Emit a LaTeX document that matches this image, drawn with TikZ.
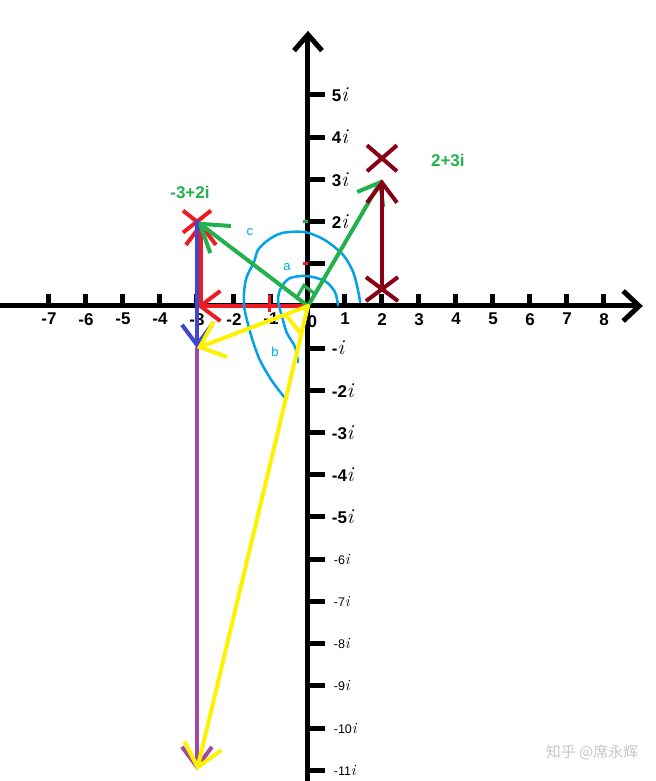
\documentclass[tikz,border=0pt]{standalone}
\usepackage{fontspec}
\setsansfont{Liberation Sans}
\newfontfamily\cjkfont{Noto Sans CJK SC}
\usetikzlibrary{arrows, arrows.meta}
\usetikzlibrary{calc}
\usetikzlibrary{shapes.misc}

\definecolor{pred}{HTML}{ED1C24}
\definecolor{pdarkred}{HTML}{880015}
\definecolor{pgreen}{HTML}{22B14C}
\definecolor{pindigo}{HTML}{3F48CC}
\definecolor{ppurple}{HTML}{A349A4}
\definecolor{pyellow}{HTML}{FFF200}
\definecolor{pblue}{HTML}{00A2E8}

\newcommand{\iu}{{\rmfamily\mdseries\itshape\scalebox{1.25}{i}}}

\begin{document}
\begin{tikzpicture}[x=37pt, y=42.2pt,
    axis/.style={line width=5pt},
    vec/.style={line width=4pt, line cap=round, -{Straight Barb[length=20pt, width=30pt]}},
    cross/.style={cross out, draw, line width=4pt, inner sep=0pt, minimum width=24pt, minimum height=18pt},
    num/.style={font=\sffamily\bfseries\fontsize{17}{20}\selectfont, inner sep=1pt},
    smallnum/.style={font=\sffamily\fontsize{12.5}{15}\selectfont, inner sep=1pt},
    arc/.style={pblue, line width=2.5pt, line cap=round},
    angle/.style={text=pblue, font=\sffamily\fontsize{13}{15}\selectfont, inner sep=1pt}]
  \useasboundingbox (-8.324,-11.256) rectangle (9.405,7.251);

  % axes
  \draw[axis, -{Straight Barb[length=16pt, width=30pt]}] (-8.4,0) -- (9.05,0);
  \draw[axis, -{Straight Barb[length=16pt, width=28pt]}] (0,-11.3) -- (0,6.52);
  \foreach \k in {-7,...,-1,1,2,...,8} {
    \draw[axis] (\k,0) -- (\k,0.28);
    \node[num, below=6pt] (xl\k) at (\k,0) {\k};
  }
  \node[num] (zero) at (0.12,-0.36) {0};
  \foreach \k in {5,4,...,1,-1,-2,...,-11}
    \draw[axis] (0,\k) -- (0.45,\k);
  \foreach \k in {5,4,3,2,-2,-3,-4,-5}
    \node[num, right=6pt] (yl\k) at (0.45,\k) {\k\iu};
  \node[num, right=6pt] (ylm1) at (0.45,-1) {-\iu};
  \foreach \k in {-6,...,-11}
    \node[smallnum, right=8pt] (yl\k) at (0.45,\k) {\k\iu};

  \coordinate (O) at (0,0);
  \coordinate (P) at (2,3);
  \coordinate (Q) at (-3,2);
  \coordinate (R) at (-3,0);
  \coordinate (S) at (-3,-1);
  \coordinate (T) at (-3,-11);

  % red: real part and -3+2i
  \draw[pred, line width=3pt] (-1.05,0.25) -- (-1.05,-0.15);
  \draw[pred, line width=3pt] (-0.14,1) -- (0,1);
  \draw[pgreen, line width=3pt] (-0.14,2) -- (0,2);
  \draw[vec, pred] (O) -- (R);
  \draw[vec, pred] ([xshift=4pt]R) -- ([xshift=4pt]Q);
  \node[cross, pred] (xq) at (Q) {};

  % angles
  \draw[arc] plot[smooth] coordinates {(-0.62,-2.18) (-0.97,-1.78) (-1.30,-1.28) (-1.54,-0.69) (-1.73,0.02) (-1.68,0.62) (-1.46,1.04) (-1.35,1.33) (-1.08,1.56) (-0.70,1.73) (-0.08,1.75) (0.46,1.56) (0.95,1.21) (1.22,0.81) (1.35,0.38) (1.41,0.09)};
  \draw[arc] plot[smooth] coordinates {(-0.27,-1.33) (-0.35,-0.97) (-0.57,-0.64) (-0.70,-0.26) (-0.81,0.14) (-0.73,0.43) (-0.49,0.66) (-0.03,0.71) (0.46,0.59) (0.73,0.33) (0.81,0.02)};

  % green vectors
  \draw[vec, pgreen] (O) -- (P);
  \draw[vec, pgreen, -{Straight Barb[length=26pt, width=34pt]}] (O) -- (Q);
  \coordinate (g1) at ($(O)!14pt!(P)$);
  \coordinate (g2) at ($(O)!14pt!(Q)$);
  \draw[pgreen, line width=3pt] (g1) -- ($(g1)+(g2)$) -- (g2);
  \node[num, text=pgreen] (lq) at (-3.19,2.68) {-3+2i};
  \node[num, text=pgreen] (lp) at (3.78,3.46) {2+3i};

  % dark red
  \node[cross, pdarkred, minimum width=26pt, minimum height=22pt] (xp) at (2,3.5) {};
  \node[cross, pdarkred, minimum width=28pt, minimum height=20pt] (xb) at (2,0.4) {};
  \draw[vec, pdarkred] (xb.center) -- (P);

  % down to -3-11i
  \draw[vec, pindigo] (xq.center) -- (S);
  \draw[vec, ppurple] (S) -- (T);
  \draw[vec, pyellow, -{Straight Barb[length=22pt, width=38pt]}] (O) -- (S);
  \draw[vec, pyellow, -{Straight Barb[length=22pt, width=38pt]}] (O) -- (T);
  \draw[pyellow, line width=4pt] ($(O)!24pt!(S)$) -- ($(O)!29pt!(T)$);

  \node[angle] (la) at (-0.57,0.92) {a};
  \node[angle] (lb) at (-0.89,-1.09) {b};
  \node[angle] (lc) at (-1.57,1.75) {c};

  \node[text=black!22, font=\cjkfont\fontsize{15}{18}\selectfont] (mark) at (7.68,-10.57) {知乎 @席永辉};
\end{tikzpicture}
\end{document}
